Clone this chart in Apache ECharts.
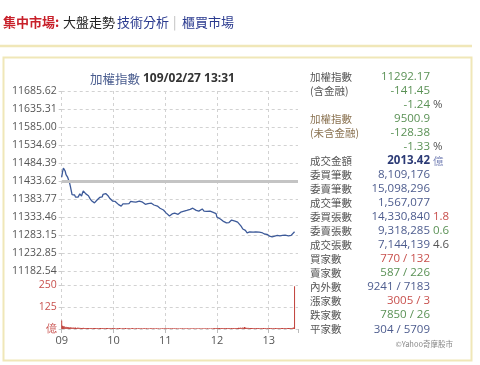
<!DOCTYPE html>
<html><head><meta charset="utf-8">
<script src="https://cdn.jsdelivr.net/npm/echarts@6/dist/echarts.min.js"></script>
<style>html,body{margin:0;padding:0;background:#fff}#c{width:480px;height:365px}</style>
</head><body><div id="c"></div><script>
// ---- data ----
const priceTicks = ['11182.54','11232.85','11283.15','11333.46','11383.77','11433.62','11484.39','11534.69','11585.00','11635.31','11685.62'];
const prevClose = 11433.62;
const hourLabels = ['09','10','11','12','13'];
const priceMinutes = [0,1,2,3,4,5,6,7,8,9,10,11,12,13,14,15,16,17,18,19,20,21,22,23,24,25,26,27,28,29,30,31,32,33,34,35,36,37,38,39,40,41,42,43,44,45,46,47,48,49,50,51,52,53,54,55,56,57,58,59,60,62,64,66,68,69,70,71,72,73,74,76,78,80,82,83,84,86,88,90,92,93,95,97,99,100,102,104,106,107,109,111,113,114,116,118,120,121,123,125,127,128,130,131,133,135,137,138,140,142,144,145,147,149,150,152,154,156,158,159,161,163,165,166,168,170,172,173,175,177,179,180,182,184,185,187,189,191,192,194,196,197,199,201,203,204,206,208,210,211,213,214,215,216,218,220,222,224,225,227,229,231,232,234,235,237,238,239,241,242,244,245,246,247,249,250,251,253,254,256,258,259,261,263,265,266,267,268,270];
const priceValues = [11445,11460,11470,11473,11462,11452,11447,11444,11441,11430,11420,11408,11396,11398,11401,11395,11389,11386,11384,11389,11392,11398,11395,11392,11400,11406,11403,11405,11398,11401,11397,11393,11389,11384,11381,11378,11375,11377,11373,11372,11376,11381,11379,11386,11388,11392,11393,11390,11397,11394,11396,11399,11395,11397,11392,11390,11385,11384,11382,11378,11381,11377,11372,11368,11364,11364,11367,11370,11368,11372,11370,11375,11371,11377,11374,11376,11372,11375,11371,11378,11373,11376,11371,11369,11374,11371,11375,11372,11368,11367,11365,11364,11360,11358,11355,11353,11348,11345,11340,11336,11339,11342,11345,11344,11342,11341,11346,11347,11349,11350,11353,11352,11356,11355,11358,11358,11354,11352,11355,11350,11353,11356,11350,11352,11349,11353,11350,11349,11347,11346,11343,11333,11336,11328,11327,11322,11320,11317,11315,11318,11322,11325,11321,11322,11317,11319,11314,11308,11300,11303,11296,11294,11289,11290,11292,11290,11291,11288,11292,11289,11291,11293,11290,11288,11286,11284,11285,11283,11280,11281,11278,11277,11277,11280,11283,11282,11284,11281,11283,11282,11280,11283,11284,11281,11283,11282,11283,11282,11292.17];
const volumes = [
48,18,15,16,12,13,11,12,10,9,10,8,9,7,8,7,8,6,7,8,6,7,6,5,6,7,5,6,5,6,
5,6,4,5,6,5,4,5,6,5,4,5,6,4,5,5,4,6,5,4,5,4,5,6,4,5,4,5,4,5,
4,5,4,3,4,5,4,5,4,3,4,5,4,4,5,3,4,4,5,4,3,4,5,4,3,4,4,5,3,4,
4,3,5,4,3,4,4,3,5,4,3,4,3,4,4,3,5,3,4,3,4,3,4,3,3,4,3,4,3,4,
4,5,3,4,4,3,4,3,5,4,3,4,3,4,3,4,3,3,4,3,4,3,4,3,4,3,4,3,3,4,
3,4,3,4,3,3,4,3,4,3,4,3,3,4,3,4,3,4,3,4,3,4,3,3,4,3,4,5,4,5,
6,5,6,5,4,5,6,5,4,5,4,5,4,5,6,5,4,5,4,5,4,6,5,6,5,7,6,8,6,7,
9,7,12,8,7,6,7,5,6,5,6,5,4,5,6,4,5,4,5,4,5,4,5,4,5,4,5,4,4,5,
4,5,4,5,4,4,5,4,5,4,4,5,4,5,4,5,5,4,5,6,5,4,5,6,5,6,5,6,7,8,
243];
const volTickLabels = {0:'億',125:'125',250:'250'};
const statLabels = ['加權指數','(含金融)','','加權指數','(未含金融)','','成交金額','委買筆數','委賣筆數','成交筆數','委買張數','委賣張數','成交張數','買家數','賣家數','內外數','漲家數','跌家數','平家數'];
const statValues = ['11292.17','-141.45','-1.24','9500.9','-128.38','-1.33','2013.42','8,109,176','15,098,296','1,567,077','14,330,840','9,318,285','7,144,139','770 / 132','587 / 226','9241 / 7183','3005 / 3','7850 / 26','304 / 5709'];
const statUnits = ['','','%','','','%','億','','','','1.8','0.6','4.6','','','','','',''];

// ---- styles ----
const GREEN='#5a9155', RED='#c8504d', BLUE='#4d5c8e', GRAY='#555', BROWN='#8b7352';
const labelColors=[GRAY,GRAY,GRAY,BROWN,BROWN,GRAY,GRAY,GRAY,GRAY,GRAY,GRAY,GRAY,GRAY,GRAY,GRAY,GRAY,GRAY,GRAY,GRAY];
const valueColors=[GREEN,GREEN,GREEN,GREEN,GREEN,GREEN,'#2b3a75',BLUE,BLUE,BLUE,BLUE,BLUE,BLUE,RED,GREEN,BLUE,RED,GREEN,BLUE];
const unitColors=['','',GRAY,'','',GRAY,'#7b86b8','','','',RED,GREEN,GRAY,'','','','','',''];
const CJK='"Noto Sans CJK TC","Noto Sans CJK SC",sans-serif';
const NUM='"Open Sans","Liberation Sans",sans-serif';

const graphics=[];
graphics.push({type:'line',shape:{x1:0,y1:46,x2:472,y2:46},style:{stroke:'#f0e7b8',lineWidth:2.5},silent:true});
graphics.push({type:'rect',shape:{x:3.5,y:57.5,width:468,height:303},style:{fill:'none',stroke:'#f0e7b8',lineWidth:2},silent:true});
function txt(t,x,y,fill,font,align){graphics.push({type:'text',x:x,y:y,style:{text:t,fill:fill,font:font,textAlign:align||'left',textVerticalAlign:'middle'},silent:true});}
txt('集中市場:',3,22,'#c8202a','bold 13px '+CJK);
txt('大盤走勢',63,22,'#222','13px '+CJK);
txt('技術分析',117,22,'#2a3a8f','13px '+CJK);
txt('|',173,22,'#bbb','13px '+CJK);
txt('櫃買市場',182,22,'#2a3a8f','13px '+CJK);
txt('加權指數',90,79,'#4a5d8f','12.5px '+CJK);
txt('109/02/27 13:31',143,79,'#333','bold 12px '+NUM);
statLabels.forEach((l,i)=>{
  const y=76.7+i*14.03;
  if(l) txt(l,310,y,labelColors[i],'10.5px '+CJK);
  const bold = i===6;
  txt(statValues[i],430,y,valueColors[i],(bold?'bold 11.5px ':'11.5px ')+NUM,'right');
  if(statUnits[i]) txt(statUnits[i],433,y,unitColors[i],(statUnits[i]==='億'?'10.5px '+CJK:'11.5px '+NUM));
});
txt('©Yahoo奇摩股市',453,344,'#888','7.5px '+CJK,'right');

const chart=echarts.init(document.getElementById('c'),null,{renderer:'canvas'});
const dashed={type:[3,3],color:'#d2d2d2',width:1};
const vcol=['#d2d2d2','#d2d2d2','#d2d2d2','#d2d2d2','#d2d2d2','rgba(0,0,0,0)'];
chart.setOption({
  animation:false,
  grid:[{left:61.7,top:91,width:236.3,height:180},{left:61.7,top:271,width:236.3,height:58}],
  xAxis:[
    {type:'value',gridIndex:0,min:0,max:274,interval:60,axisLabel:{show:false},axisTick:{show:false},axisLine:{show:false},
     splitLine:{show:true,lineStyle:{type:[3,3],width:1,color:vcol}}},
    {type:'value',gridIndex:1,min:0,max:274,interval:60,axisLine:{show:false},
     axisTick:{show:true,length:4,lineStyle:{color:'#bbb'}},
     axisLabel:{color:GRAY,fontSize:11,fontFamily:NUM,margin:6,formatter:v=>(v%60===0&&v/60<hourLabels.length)?hourLabels[v/60]:''},
     splitLine:{show:true,lineStyle:{type:[3,3],width:1,color:vcol}}}
  ],
  yAxis:[
    {type:'category',gridIndex:0,data:priceTicks,boundaryGap:false,axisLine:{show:false},
     axisTick:{show:true,length:3,lineStyle:{color:'#ccc'}},
     axisLabel:{color:GRAY,fontSize:10.5,fontFamily:NUM,margin:5},
     splitLine:{show:true,lineStyle:dashed}},
    {type:'value',gridIndex:0,min:11182.54,max:11685.62,show:false,splitLine:{show:false}},
    {type:'value',gridIndex:1,min:0,max:329.5,interval:125,axisLine:{show:false},
     axisTick:{show:true,length:3,lineStyle:{color:'#ccc'}},
     axisLabel:{color:RED,fontSize:10.5,fontFamily:NUM,margin:5,formatter:v=>volTickLabels[v]!==undefined?volTickLabels[v]:''},
     splitLine:{show:true,lineStyle:{type:[3,3],width:1,color:['#d2d2d2','#d2d2d2','#d2d2d2','rgba(0,0,0,0)']}}}
  ],
  series:[
    {type:'line',xAxisIndex:0,yAxisIndex:1,data:priceMinutes.map((t,i)=>[t,priceValues[i]]),showSymbol:false,
     lineStyle:{color:'#3d5a99',width:1.3},
     markLine:{silent:true,symbol:'none',label:{show:false},lineStyle:{color:'#c4c4c4',width:3,type:'solid'},data:[{yAxis:prevClose}]},
     z:3},
    {type:'bar',xAxisIndex:1,yAxisIndex:2,data:volumes.map((v,i)=>[i,v]),barWidth:1,itemStyle:{color:'#c0403a'}}
  ],
  graphic:graphics
});
</script></body></html>
